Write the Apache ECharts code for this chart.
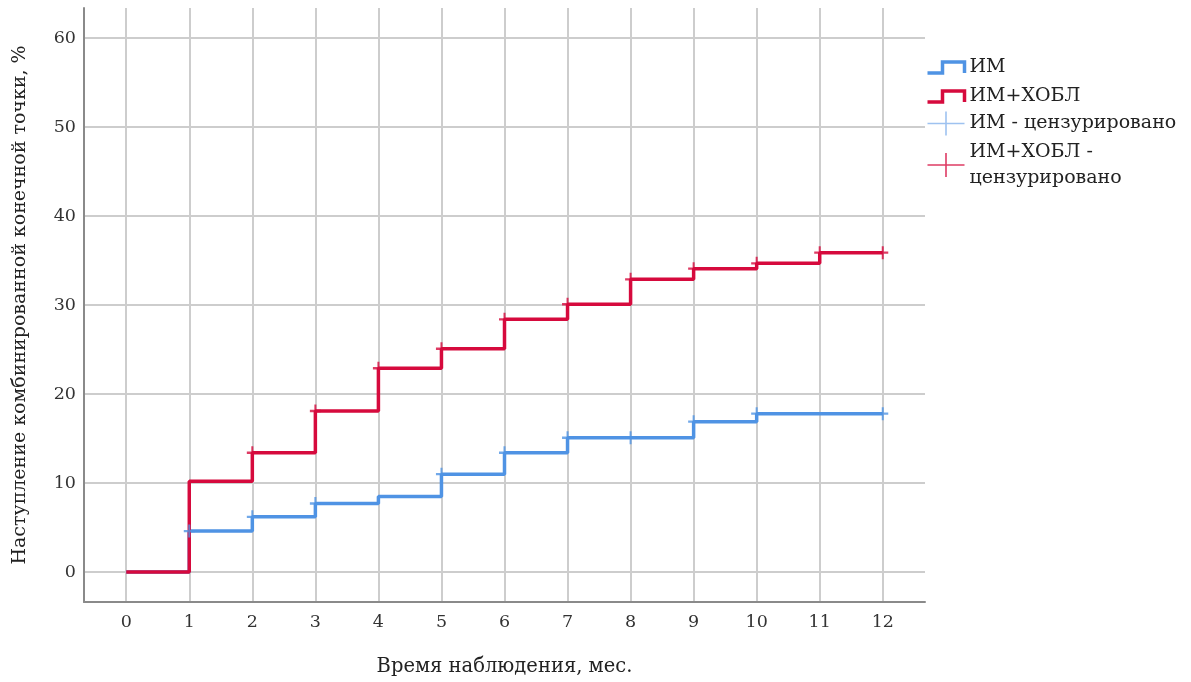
<!DOCTYPE html>
<html>
<head>
<meta charset="utf-8">
<script src="https://cdn.jsdelivr.net/npm/echarts@6/dist/echarts.min.js"></script>
<style>
html,body{margin:0;padding:0;background:#fff;}
#chart{width:1191px;height:682px;}
</style>
</head>
<body>
<div id="chart"></div>
<script>
// ---- data ----
var seriesNames = ['ИМ', 'ИМ+ХОБЛ', 'ИМ - цензурировано', 'ИМ+ХОБЛ - цензурировано'];
// step curves: [month, cumulative % of endpoint]
var imCurve = [[0, 0], [1, 4.6], [2, 6.2], [3, 7.7], [4, 8.5], [5, 11.0], [6, 13.4], [7, 15.1], [8, 15.1], [9, 16.9], [10, 17.8], [11, 17.8], [12, 17.8]];
var copdCurve = [[0, 0], [1, 10.2], [2, 13.4], [3, 18.1], [4, 22.9], [5, 25.1], [6, 28.4], [7, 30.1], [8, 32.9], [9, 34.1], [10, 34.7], [11, 35.9], [12, 35.9]];
// censored observations (months)
var imCensored = [1, 2, 3, 5, 6, 7, 8, 9, 10, 12];
var copdCensored = [2, 3, 4, 5, 6, 7, 8, 9, 10, 11, 12];
var xTitle = 'Время наблюдения, мес.';
var yTitle = 'Наступление комбинированной конечной точки, %';

var BLUE = '#4f93e4';
var RED = '#d60a3d';
var BLUE_LIGHT = '#86b3ec';
var FONT = 'DejaVu Serif';

function valueAt(curve, x) {
  var v = 0;
  for (var i = 0; i < curve.length; i++) { if (curve[i][0] <= x) v = curve[i][1]; }
  return v;
}
function censorPoints(curve, months) {
  return months.map(function (m) { return [m, valueAt(curve, m)]; });
}

var crossSymbol = 'path://M0,6L10,6M5,0L5,12';

var chart = echarts.init(document.getElementById('chart'), null, {renderer: 'canvas'});
chart.setOption({
  animation: false,
  backgroundColor: '#fff',
  grid: {left: 84, right: 266, top: 8, bottom: 80, containLabel: false},
  xAxis: {
    type: 'value', min: -0.67, max: 12.67, splitNumber: 13,
    name: xTitle, nameLocation: 'middle', nameGap: 55,
    nameTextStyle: {fontFamily: FONT, fontSize: 19.5, color: '#222'},
    axisLine: {show: true, onZero: false, lineStyle: {color: '#8a8a8a', width: 2}},
    axisTick: {show: false},
    axisLabel: {
      fontFamily: FONT, fontSize: 17.5, color: '#333', margin: 11,
      showMinLabel: false, showMaxLabel: false,
      formatter: function (v) { return Math.abs(v - Math.round(v)) < 1e-6 ? String(Math.round(v)) : ''; }
    },
    splitLine: {show: true, showMinLine: false, showMaxLine: false, lineStyle: {color: '#cdcdcd', width: 2}}
  },
  yAxis: {
    type: 'value', min: -3.37, max: 63.4, splitNumber: 7,
    name: yTitle, nameLocation: 'middle', nameGap: 54,
    nameTextStyle: {fontFamily: FONT, fontSize: 19, color: '#222'},
    axisLine: {show: true, onZero: false, lineStyle: {color: '#8a8a8a', width: 2}},
    axisTick: {show: false},
    axisLabel: {
      fontFamily: FONT, fontSize: 17.5, color: '#333', margin: 8,
      showMinLabel: false, showMaxLabel: false,
      formatter: function (v) { return Math.abs(v / 10 - Math.round(v / 10)) < 1e-6 ? String(Math.round(v)) : ''; }
    },
    splitLine: {show: true, showMinLine: false, showMaxLine: false, lineStyle: {color: '#cdcdcd', width: 2}}
  },
  legend: [{
    orient: 'vertical', left: 925, top: 56, itemWidth: 37, itemHeight: 11, itemGap: 6,
    selectedMode: false, padding: 0,
    textStyle: {fontFamily: FONT, fontSize: 19, color: '#222', lineHeight: 23},
    data: [
      {name: seriesNames[0], icon: 'path://M0,11L15,11L15,0L37,0L37,11', itemStyle: {color: 'none', borderColor: BLUE, borderWidth: 3.5}},
      {name: seriesNames[1], icon: 'path://M0,11L15,11L15,0L37,0L37,11', itemStyle: {color: 'none', borderColor: RED, borderWidth: 3.5}}
    ]
  }, {
    orient: 'vertical', left: 925, top: 109, itemWidth: 37, itemHeight: 24, itemGap: 1,
    selectedMode: false, padding: 0,
    textStyle: {fontFamily: FONT, fontSize: 19, color: '#222', lineHeight: 26},
    formatter: function (name) { return name === seriesNames[3] ? 'ИМ+ХОБЛ -\nцензурировано' : name; },
    data: [
      {name: seriesNames[2], icon: 'path://M0,12L37,12M18.5,0L18.5,24', itemStyle: {color: 'none', borderColor: BLUE_LIGHT, borderWidth: 1.6}},
      {name: seriesNames[3], icon: 'path://M0,12L37,12M18.5,0L18.5,24', itemStyle: {color: 'none', borderColor: RED, borderWidth: 1.6}}
    ]
  }],
  series: [
    {name: seriesNames[0], type: 'line', step: 'end', data: imCurve, showSymbol: false, symbol: 'none',
      lineStyle: {color: BLUE, width: 3.5}, itemStyle: {color: BLUE}, silent: true, z: 2},
    {name: seriesNames[1], type: 'line', step: 'end', data: copdCurve, showSymbol: false, symbol: 'none',
      lineStyle: {color: RED, width: 3.5}, itemStyle: {color: RED}, silent: true, z: 3},
    {name: seriesNames[2], type: 'scatter', data: censorPoints(imCurve, imCensored), symbol: crossSymbol, symbolSize: [11, 13],
      itemStyle: {color: 'none', borderColor: BLUE, borderWidth: 2.2}, silent: true, z: 4},
    {name: seriesNames[3], type: 'scatter', data: censorPoints(copdCurve, copdCensored), symbol: crossSymbol, symbolSize: [11, 13],
      itemStyle: {color: 'none', borderColor: RED, borderWidth: 2.2}, silent: true, z: 5}
  ]
});
</script>
</body>
</html>
